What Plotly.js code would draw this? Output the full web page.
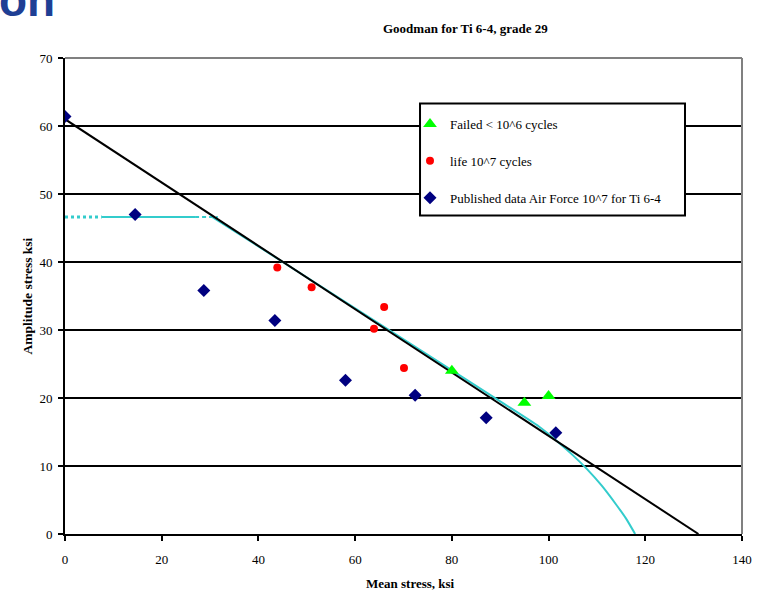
<!DOCTYPE html>
<html>
<head>
<meta charset="utf-8">
<script src="https://cdn.plot.ly/plotly-3.0.1.min.js"></script>
<style>
  html, body { margin: 0; padding: 0; background: #fff; }
  #chart { width: 763px; height: 591px; }
</style>
</head>
<body>
<div id="chart"></div>
<script>
// Fatigue test results, mean stress vs amplitude stress (ksi)
const failedX = [80, 95, 100];
const failedY = [24.0, 19.3, 20.3];

const lifeX = [43.9, 51.0, 66.0, 63.9, 70.1];
const lifeY = [39.2, 36.3, 33.4, 30.2, 24.4];

const publishedX = [0, 14.5, 28.7, 43.4, 58.0, 72.4, 87.1, 101.5];
const publishedY = [61.4, 47.0, 35.8, 31.4, 22.6, 20.4, 17.1, 14.9];

// Goodman line: endurance limit at zero mean stress down to ultimate strength
const goodmanX = [0, 131];
const goodmanY = [61, 0];

// Design envelope (cyan): plateau pieces, then the falling curve
const plateauDotX = [0, 7.6];
const plateauDotY = [46.6, 46.6];
const plateauX = [7.6, 26.9];
const plateauY = [46.6, 46.6];
const plateauDashX = [26.9, 31.6];
const plateauDashY = [46.6, 46.6];
const envelopeX = [30.5, 60, 90, 98, 102, 105, 108, 111, 114, 116, 117.9];
const envelopeY = [46.6, 33.2, 19.5, 15.8, 13.5, 11.6, 9.5, 7.1, 4.3, 2.3, 0];

const xTicks = [0, 20, 40, 60, 80, 100, 120, 140];
const yTicks = [0, 10, 20, 30, 40, 50, 60, 70];

const serif = 'Liberation Serif, Times New Roman, serif';
const cyan = '#33CCCC';

const lineTrace = (x, y, color, dash, width, name) => ({
  x, y, type: 'scatter', mode: 'lines', name,
  line: { color, width, dash },
  showlegend: false, hoverinfo: 'skip'
});

const data = [
  lineTrace(plateauDotX, plateauDotY, cyan, 'dot', 3, 'plateau-dot'),
  lineTrace(plateauX, plateauY, cyan, 'solid', 2, 'plateau'),
  lineTrace(plateauDashX, plateauDashY, cyan, '4px,3px', 2, 'plateau-dash'),
  Object.assign(lineTrace(envelopeX, envelopeY, cyan, 'solid', 2, 'envelope'),
    { line: { color: cyan, width: 2, shape: 'spline', smoothing: 0.6 } }),
  lineTrace(goodmanX, goodmanY, '#000000', 'solid', 2, 'Goodman'),
  {
    x: publishedX, y: publishedY, type: 'scatter', mode: 'markers',
    name: 'Published data Air Force 10^7 for Ti 6-4',
    legendgroup: 'c', legendrank: 3,
    marker: { symbol: 'diamond', size: 10, color: '#000080' }
  },
  {
    x: lifeX, y: lifeY, type: 'scatter', mode: 'markers',
    name: 'life 10^7 cycles',
    legendgroup: 'b', legendrank: 2,
    marker: { symbol: 'circle', size: 8, color: '#FF0000' }
  },
  {
    x: failedX, y: failedY, type: 'scatter', mode: 'markers',
    name: 'Failed < 10^6 cycles',
    legendgroup: 'a', legendrank: 1,
    marker: { symbol: 'triangle-up', size: 12, color: '#00FF00' }
  }
];

const layout = {
  width: 763, height: 591,
  margin: { l: 65, r: 21, t: 58, b: 57 },
  paper_bgcolor: '#ffffff', plot_bgcolor: '#ffffff',
  font: { family: serif, size: 13, color: '#000' },
  showlegend: true,
  legend: {
    x: 0.5096, y: 0.893, xanchor: 'left', yanchor: 'top',
    bgcolor: 'rgba(0,0,0,0)', borderwidth: 0,
    traceorder: 'grouped', tracegroupgap: 17,
    font: { family: serif, size: 13, color: '#000' }
  },
  xaxis: {
    range: [0, 140], tickvals: xTicks, ticktext: xTicks.map(String),
    showgrid: false, zeroline: false,
    showline: true, linecolor: '#000', linewidth: 2,
    ticks: 'outside', ticklen: 5, tickwidth: 2, tickcolor: '#000',
    ticklabelstandoff: 7,
    tickfont: { family: serif, size: 13, color: '#000' },
    fixedrange: true
  },
  yaxis: {
    range: [0, 70], tickvals: yTicks, ticktext: yTicks.map(String),
    showgrid: true, gridcolor: '#000', gridwidth: 1.5,
    zeroline: false,
    showline: true, linecolor: '#000', linewidth: 2,
    ticks: 'outside', ticklen: 5, tickwidth: 2, tickcolor: '#000',
    ticklabelstandoff: 3,
    tickfont: { family: serif, size: 13, color: '#000' },
    fixedrange: true
  },
  shapes: [
    // grey top and right frame of the plot area
    { type: 'line', xref: 'paper', yref: 'paper', x0: 0, x1: 1, y0: 1, y1: 1,
      line: { color: '#808080', width: 2 }, layer: 'above' },
    { type: 'line', xref: 'paper', yref: 'paper', x0: 1, x1: 1, y0: 0, y1: 1,
      line: { color: '#808080', width: 2 }, layer: 'above' },
    // legend box
    { type: 'rect', xref: 'paper', yref: 'paper',
      x0: 0.5244, x1: 0.9158, y0: 0.6691, y1: 0.9044,
      fillcolor: '#ffffff', line: { color: '#000', width: 2 }, layer: 'above' }
  ],
  annotations: [
    { text: '<b>Goodman for Ti 6-4, grade 29</b>', xref: 'paper', yref: 'paper',
      x: 0.592, y: 1.0, yshift: 30, xanchor: 'center', yanchor: 'middle',
      showarrow: false, font: { family: serif, size: 13, color: '#000' } },
    { text: '<b>Mean stress, ksi</b>', xref: 'paper', yref: 'paper',
      x: 0.511, y: -0.104, xanchor: 'center', yanchor: 'middle',
      showarrow: false, font: { family: serif, size: 13, color: '#000' } },
    { text: '<b>Amplitude stress ksi</b>', xref: 'paper', yref: 'paper',
      x: -0.0547, y: 0.501, xanchor: 'center', yanchor: 'middle', textangle: -90,
      showarrow: false, font: { family: serif, size: 13.5, color: '#000' } },
    { text: '<b>on</b>', xref: 'paper', yref: 'paper',
      x: -0.0118, y: 1.0, xshift: 0, yshift: 58, xanchor: 'right', yanchor: 'middle',
      showarrow: false, font: { family: 'Liberation Sans, Arial, sans-serif', size: 46, color: '#1E3F94' } }
  ]
};

Plotly.newPlot('chart', data, layout, { displayModeBar: false, staticPlot: true });
</script>
</body>
</html>
